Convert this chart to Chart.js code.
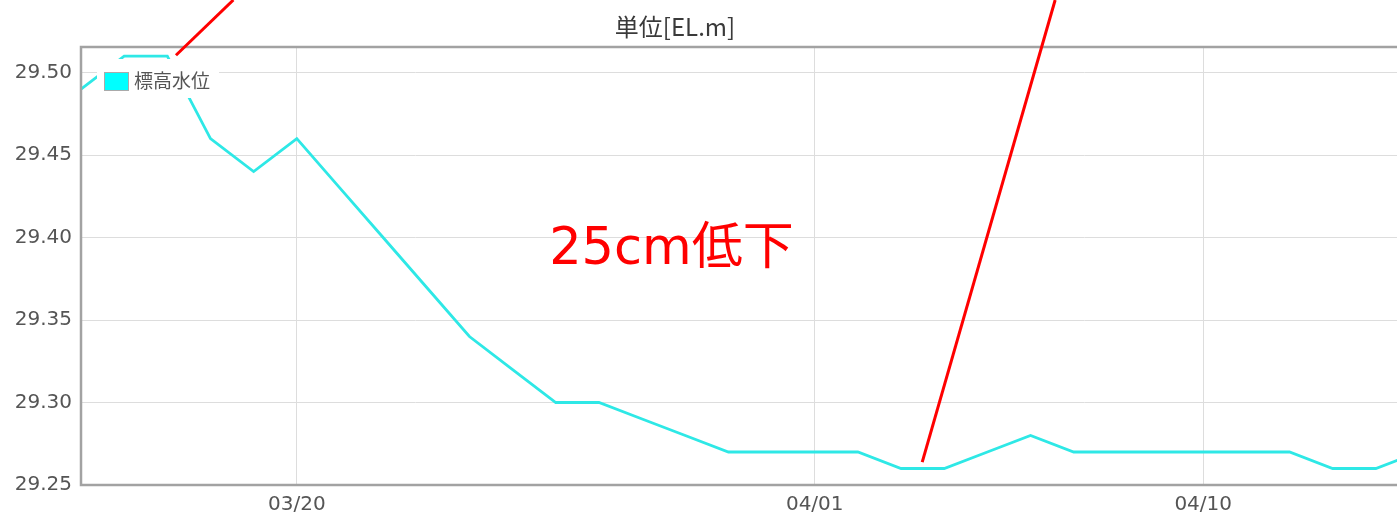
<!DOCTYPE html>
<html>
<head>
<meta charset="utf-8">
<script src="https://cdn.jsdelivr.net/npm/chart.js@4"></script>
<style>
  html, body { margin: 0; padding: 0; background: #fff; overflow: hidden; }
  #wrap { width: 1427px; height: 514px; position: relative; }
</style>
</head>
<body>
<div id="wrap"><canvas id="levelChart"></canvas></div>
<script>
// daily dates, 03/15 .. 04/15
const dates = ['03/15','03/16','03/17','03/18','03/19','03/20','03/21','03/22','03/23','03/24',
  '03/25','03/26','03/27','03/28','03/29','03/30','03/31','04/01','04/02','04/03','04/04',
  '04/05','04/06','04/07','04/08','04/09','04/10','04/11','04/12','04/13','04/14','04/15'];
// 標高水位 [EL.m]
const waterLevel = [29.49, 29.51, 29.51, 29.46, 29.44, 29.46, 29.43, 29.40, 29.37, 29.34,
  29.32, 29.30, 29.30, 29.29, 29.28, 29.27, 29.27, 29.27, 29.27, 29.26, 29.26,
  29.27, 29.28, 29.27, 29.27, 29.27, 29.27, 29.27, 29.27, 29.26, 29.26, 29.27];
const shownDates = ['03/20', '04/01', '04/10'];
const yMin = 29.25, yMax = 29.5155, yStep = 0.05;
// red callout lines: [from, to] as (date index, level)
const calloutLines = [
  [[2.2, 29.5105], [3.53, 29.544]],
  [[19.49, 29.2639], [22.57, 29.544]]
];
const noteText = '25cm低下';
const noteAt = [13.68, 29.392];

const GRID = '#dddddd';
const LINE = '#2ee8e6';

const overlay = {
  id: 'overlay',
  afterDraw(chart) {
    const { ctx, chartArea: a, scales: { x, y } } = chart;
    ctx.save();
    // frame
    ctx.strokeStyle = '#a2a2a2';
    ctx.lineWidth = 2.5;
    ctx.strokeRect(a.left, a.top, a.right - a.left, a.bottom - a.top);

    // title
    ctx.fillStyle = '#3a3a3a';
    ctx.font = '24px "Noto Sans CJK JP", "Noto Sans"';
    ctx.textAlign = 'center';
    ctx.textBaseline = 'middle';
    ctx.fillText('単位[EL.m]', 675, 27);

    // legend inside plot
    ctx.fillStyle = '#fff';
    ctx.fillRect(97, 59, 122, 39);
    ctx.fillStyle = '#00ffff';
    ctx.fillRect(104, 72, 24, 18);
    ctx.strokeStyle = '#aaa';
    ctx.lineWidth = 1;
    ctx.strokeRect(104.5, 72.5, 24, 18);
    ctx.fillStyle = '#555';
    ctx.font = '19px "Noto Sans CJK JP"';
    ctx.textAlign = 'left';
    ctx.fillText(chart.data.datasets[0].label, 134, 81);

    // callouts
    ctx.strokeStyle = '#ff0000';
    ctx.lineWidth = 3;
    calloutLines.forEach(([p, q]) => {
      ctx.beginPath();
      ctx.moveTo(x.getPixelForValue(p[0]), y.getPixelForValue(p[1]));
      ctx.lineTo(x.getPixelForValue(q[0]), y.getPixelForValue(q[1]));
      ctx.stroke();
    });
    ctx.fillStyle = '#ff0000';
    ctx.font = '51px "DejaVu Sans", "Noto Sans CJK JP"';
    ctx.textAlign = 'center';
    ctx.fillText(noteText, x.getPixelForValue(noteAt[0]), y.getPixelForValue(noteAt[1]));
    ctx.restore();
  }
};

new Chart(document.getElementById('levelChart'), {
  type: 'line',
  data: {
    labels: dates,
    datasets: [{
      label: '標高水位',
      data: waterLevel,
      borderColor: LINE,
      backgroundColor: LINE,
      borderWidth: 2.8,
      pointRadius: 0,
      tension: 0,
      fill: false
    }]
  },
  options: {
    responsive: true,
    maintainAspectRatio: false,
    animation: false,
    layout: { padding: { top: 47, right: 1, left: 0, bottom: 0 } },
    plugins: {
      legend: { display: false },
      title: { display: false },
      tooltip: { enabled: false }
    },
    scales: {
      x: {
        type: 'category',
        offset: false,
        grid: {
          drawTicks: false,
          color: (c) => (c.tick && shownDates.includes(dates[c.index])) ? GRID : 'transparent'
        },
        border: { display: false },
        ticks: {
          autoSkip: false,
          maxRotation: 0,
          padding: 8,
          color: '#555',
          font: { family: '"DejaVu Sans"', size: 20 },
          callback: (v, i) => shownDates.includes(dates[i]) ? dates[i] : ''
        },
        afterFit: (s) => { s.height = 29; }
      },
      y: {
        min: yMin,
        max: yMax,
        grid: { drawTicks: false, color: GRID },
        border: { display: false },
        ticks: {
          stepSize: yStep,
          includeBounds: false,
          padding: 9,
          color: '#555',
          font: { family: '"DejaVu Sans"', size: 20 },
          callback: (v) => v.toFixed(2)
        },
        afterFit: (s) => { s.width = 81; }
      }
    }
  },
  plugins: [overlay]
});
</script>
</body>
</html>
